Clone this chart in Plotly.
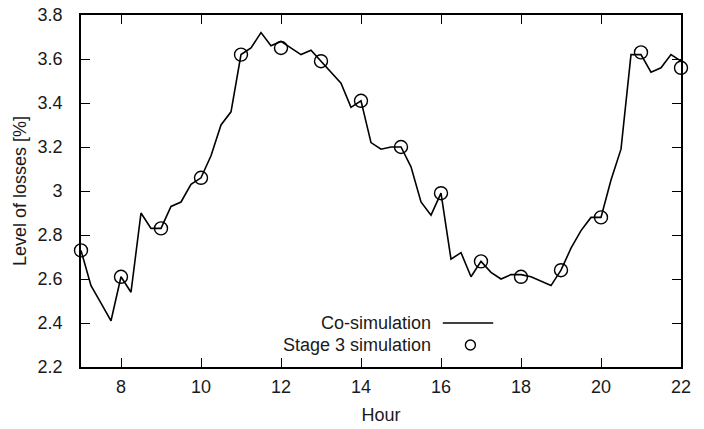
import plotly.graph_objects as go

# Co-simulation (15-minute resolution)
hours = [7.00, 7.25, 7.50, 7.75, 8.00, 8.25, 8.50, 8.75, 9.00, 9.25, 9.50, 9.75,
         10.00, 10.25, 10.50, 10.75, 11.00, 11.25, 11.50, 11.75, 12.00, 12.25, 12.50, 12.75,
         13.00, 13.25, 13.50, 13.75, 14.00, 14.25, 14.50, 14.75, 15.00, 15.25, 15.50, 15.75,
         16.00, 16.25, 16.50, 16.75, 17.00, 17.25, 17.50, 17.75, 18.00, 18.25, 18.50, 18.75,
         19.00, 19.25, 19.50, 19.75, 20.00, 20.25, 20.50, 20.75, 21.00, 21.25, 21.50, 21.75,
         22.00]
cosim = [2.73, 2.57, 2.49, 2.41, 2.61, 2.54, 2.90, 2.83, 2.83, 2.93, 2.95, 3.03,
         3.06, 3.16, 3.30, 3.36, 3.62, 3.65, 3.72, 3.66, 3.68, 3.65, 3.62, 3.64,
         3.59, 3.54, 3.49, 3.38, 3.41, 3.22, 3.19, 3.20, 3.20, 3.11, 2.95, 2.89,
         2.99, 2.69, 2.72, 2.61, 2.68, 2.63, 2.60, 2.62, 2.62, 2.61, 2.59, 2.57,
         2.64, 2.74, 2.82, 2.88, 2.88, 3.05, 3.19, 3.62, 3.62, 3.54, 3.56, 3.62,
         3.59]

# Stage 3 simulation (hourly)
stage_hours = [7, 8, 9, 10, 11, 12, 13, 14, 15, 16, 17, 18, 19, 20, 21, 22]
stage3 = [2.73, 2.61, 2.83, 3.06, 3.62, 3.65, 3.59, 3.41, 3.20, 2.99, 2.68, 2.61,
          2.64, 2.88, 3.63, 3.56]

x_ticks = [8, 10, 12, 14, 16, 18, 20, 22]
y_ticks = [2.2, 2.4, 2.6, 2.8, 3.0, 3.2, 3.4, 3.6, 3.8]
y_labels = ["2.2", "2.4", "2.6", "2.8", "3", "3.2", "3.4", "3.6", "3.8"]

FONT = "Liberation Sans, Arial, sans-serif"
fs = 18
TXT = "#1a1a1a"

fig = go.Figure()
fig.add_trace(go.Scatter(x=hours, y=cosim, mode="lines", name="Co-simulation",
                         line=dict(color="black", width=1.6), showlegend=False))
fig.add_trace(go.Scatter(x=stage_hours, y=stage3, mode="markers", name="Stage 3 simulation",
                         marker=dict(symbol="circle-open", size=13, color="black",
                                     line=dict(width=1.4, color="black")),
                         showlegend=False, cliponaxis=False))

axis_common = dict(showgrid=False, zeroline=False, showline=True, linecolor="black",
                   linewidth=1.6, mirror="allticks", ticks="inside", ticklen=9,
                   tickwidth=1.3, tickcolor="black", automargin=False,
                   tickfont=dict(family=FONT, size=fs, color=TXT))

fig.update_xaxes(range=[7, 22], tickvals=x_ticks, ticktext=[str(v) for v in x_ticks],
                 title=dict(text="Hour", font=dict(family=FONT, size=fs, color=TXT),
                            standoff=12),
                 ticklabelstandoff=3, **axis_common)
fig.update_yaxes(range=[2.2, 3.8], tickvals=y_ticks, ticktext=y_labels,
                 title=dict(text="Level of losses [%]", font=dict(family=FONT, size=fs, color=TXT),
                            standoff=6),
                 ticklabelstandoff=13, **axis_common)

# legend (gnuplot style: label left of sample)
for txt, py in [("Co-simulation", 0.125), ("Stage 3 simulation", 0.0625)]:
    fig.add_annotation(x=0.587, y=py, xref="paper", yref="paper", text=txt,
                       showarrow=False, xanchor="right", yanchor="middle",
                       font=dict(family=FONT, size=fs, color=TXT))
fig.add_shape(type="line", xref="paper", yref="paper", x0=0.603, x1=0.687,
              y0=0.125, y1=0.125, line=dict(color="black", width=1.6))
fig.add_shape(type="circle", xref="paper", yref="paper",
              x0=0.649 - 5 / 600, x1=0.649 + 5 / 600,
              y0=0.0625 - 5 / 352, y1=0.0625 + 5 / 352,
              line=dict(color="black", width=1.4))

fig.update_layout(width=704, height=429, margin=dict(l=81, r=23, t=15, b=62),
                  plot_bgcolor="white", paper_bgcolor="white",
                  font=dict(family=FONT, size=fs, color=TXT))

fig.write_html("out.html")
